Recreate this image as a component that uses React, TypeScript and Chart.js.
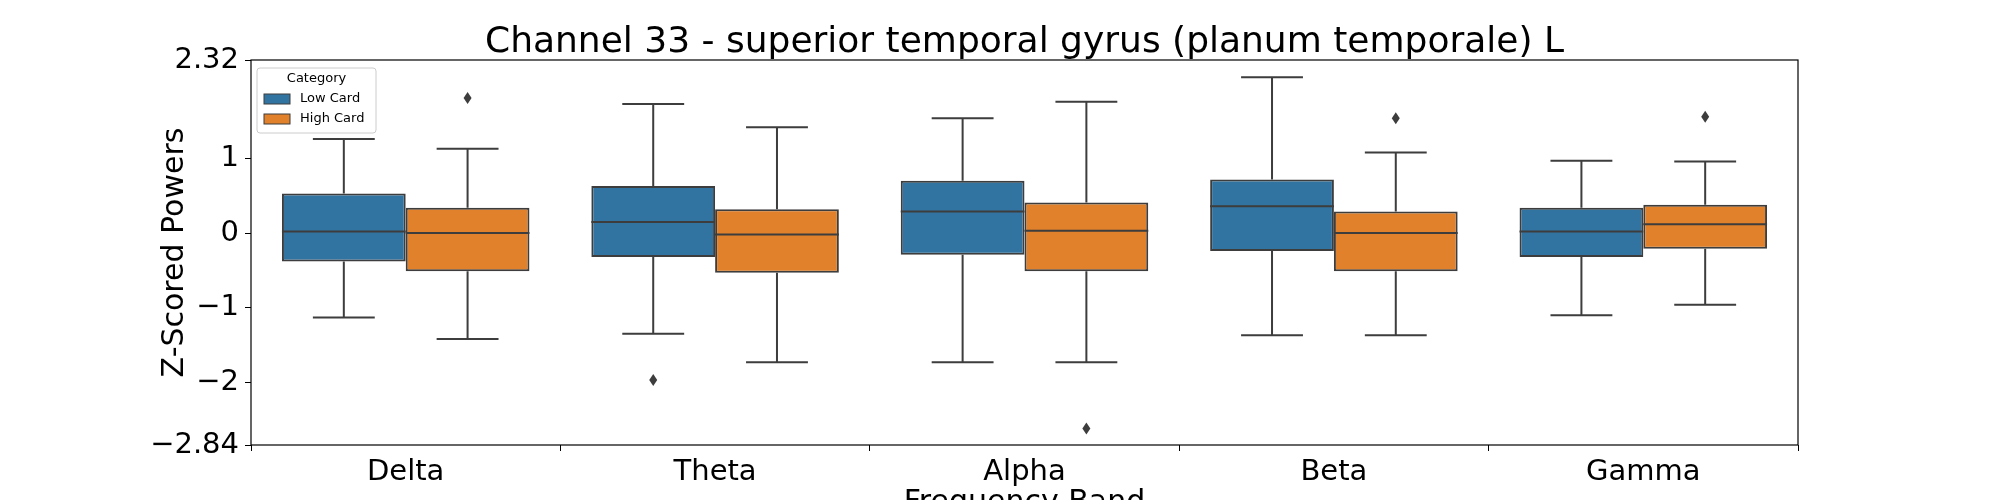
import { useEffect, useRef } from 'react';
import Chart from 'chart.js/auto';

const bands = ['Delta', 'Theta', 'Alpha', 'Beta', 'Gamma'];

// Low Card
const lowMin = [-1.13, -1.35, -1.73, -1.37, -1.1];
const lowQ1 = [-0.38, -0.32, -0.29, -0.24, -0.32];
const lowMed = [0.02, 0.15, 0.29, 0.36, 0.02];
const lowQ3 = [0.53, 0.63, 0.7, 0.72, 0.34];
const lowMax = [1.26, 1.73, 1.54, 2.09, 0.97];
const lowOut = [[], [-1.97], [], [], []];

// High Card
const highMin = [-1.42, -1.73, -1.73, -1.37, -0.96];
const highQ1 = [-0.51, -0.53, -0.51, -0.51, -0.21];
const highMed = [0.0, -0.02, 0.03, 0.0, 0.12];
const highQ3 = [0.34, 0.32, 0.41, 0.29, 0.38];
const highMax = [1.13, 1.42, 1.76, 1.08, 0.96];
const highOut = [[1.81], [], [-2.62], [1.54], [1.56]];

const LOW_COLOR = '#3274a1';
const HIGH_COLOR = '#e1812c';
const EDGE = '#3d3d3d';
const FONT = "'DejaVu Sans', sans-serif";

const stats = [
  { min: lowMin, med: lowMed, max: lowMax, out: lowOut },
  { min: highMin, med: highMed, max: highMax, out: highOut },
];

const boxPlugin = {
  id: 'boxExtras',
  afterDatasetsDraw(chart: any) {
    const ctx = chart.ctx;
    const y = chart.scales.y;
    ctx.save();
    ctx.strokeStyle = EDGE;
    ctx.fillStyle = EDGE;
    ctx.lineWidth = 2;
    stats.forEach((s, di) => {
      const meta = chart.getDatasetMeta(di);
      meta.data.forEach((bar: any, j: number) => {
        const x = bar.x;
        const hw = bar.width / 2;
        const ds = chart.data.datasets[di].data[j];
        const q1 = y.getPixelForValue(ds[0]);
        const q3 = y.getPixelForValue(ds[1]);
        const mn = y.getPixelForValue(s.min[j]);
        const mx = y.getPixelForValue(s.max[j]);
        const md = y.getPixelForValue(s.med[j]);
        ctx.beginPath();
        ctx.moveTo(x, q1); ctx.lineTo(x, mn);
        ctx.moveTo(x, q3); ctx.lineTo(x, mx);
        ctx.moveTo(x - hw / 2, mn); ctx.lineTo(x + hw / 2, mn);
        ctx.moveTo(x - hw / 2, mx); ctx.lineTo(x + hw / 2, mx);
        ctx.moveTo(x - hw, md); ctx.lineTo(x + hw, md);
        ctx.stroke();
        s.out[j].forEach((v: number) => {
          const py = y.getPixelForValue(v);
          ctx.beginPath();
          ctx.moveTo(x, py - 6); ctx.lineTo(x + 4, py); ctx.lineTo(x, py + 6); ctx.lineTo(x - 4, py);
          ctx.closePath();
          ctx.fill();
        });
      });
    });
    ctx.restore();
  },
  afterDraw(chart: any) {
    const ctx = chart.ctx;
    const a = chart.chartArea;
    ctx.save();
    // frame
    ctx.strokeStyle = '#000';
    ctx.lineWidth = 1.2;
    ctx.strokeRect(a.left, a.top, a.right - a.left, a.bottom - a.top);
    // title
    ctx.fillStyle = '#000';
    ctx.textAlign = 'center';
    ctx.textBaseline = 'alphabetic';
    ctx.font = `36px ${FONT}`;
    ctx.fillText('Channel 33 - superior temporal gyrus (planum temporale) L', (a.left + a.right) / 2, 52);
    // x title
    ctx.font = `30px ${FONT}`;
    ctx.textBaseline = 'top';
    ctx.fillText('Frequency Band', (a.left + a.right) / 2, 488);
    // y title
    ctx.save();
    ctx.translate(175, (a.top + a.bottom) / 2);
    ctx.rotate(-Math.PI / 2);
    ctx.textBaseline = 'middle';
    ctx.fillText('Z-Scored Powers', 0, 0);
    ctx.restore();
    // legend
    const lx = 257, ly = 68, lw = 119, lh = 65;
    ctx.fillStyle = 'rgba(255,255,255,0.8)';
    ctx.strokeStyle = '#ccc';
    ctx.lineWidth = 1;
    ctx.beginPath();
    ctx.roundRect(lx, ly, lw, lh, 3);
    ctx.fill();
    ctx.stroke();
    ctx.fillStyle = '#000';
    ctx.font = `13px ${FONT}`;
    ctx.textAlign = 'center';
    ctx.textBaseline = 'middle';
    ctx.fillText('Category', lx + lw / 2, ly + 11);
    const entries = [['Low Card', LOW_COLOR], ['High Card', HIGH_COLOR]];
    entries.forEach(([label, color], i) => {
      const ey = ly + 31 + i * 20;
      ctx.fillStyle = color;
      ctx.fillRect(lx + 7, ey - 5, 26, 10);
      ctx.strokeStyle = EDGE;
      ctx.strokeRect(lx + 7, ey - 5, 26, 10);
      ctx.fillStyle = '#000';
      ctx.textAlign = 'left';
      ctx.fillText(label, lx + 43, ey);
    });
    ctx.restore();
  },
};

export default function App() {
  const ref = useRef<HTMLCanvasElement>(null);

  useEffect(() => {
    if (!ref.current) return;
    const chart = new Chart(ref.current, {
      type: 'bar',
      data: {
        labels: bands,
        datasets: [
          {
            label: 'Low Card',
            data: bands.map((_, i) => [lowQ1[i], lowQ3[i]]) as any,
            backgroundColor: LOW_COLOR,
            borderColor: EDGE,
            borderWidth: 2,
            borderSkipped: false,
          },
          {
            label: 'High Card',
            data: bands.map((_, i) => [highQ1[i], highQ3[i]]) as any,
            backgroundColor: HIGH_COLOR,
            borderColor: EDGE,
            borderWidth: 2,
            borderSkipped: false,
          },
        ],
      },
      options: {
        animation: false,
        responsive: false,
        layout: { padding: { top: 60, right: 202, left: 0, bottom: 0 } },
        plugins: { legend: { display: false }, tooltip: { enabled: false }, title: { display: false } },
        datasets: { bar: { categoryPercentage: 0.8, barPercentage: 1.0 } },
        scales: {
          x: {
            grid: { drawOnChartArea: false, drawTicks: true, tickLength: 6, color: '#000' },
            border: { display: false },
            ticks: { color: '#000', font: { family: FONT, size: 29 }, padding: 4 },
            afterFit: (s: any) => { s.height = 55; },
          },
          y: {
            min: -2.84,
            max: 2.32,
            grid: { drawOnChartArea: false, drawTicks: true, tickLength: 6, color: '#000' },
            border: { display: false },
            ticks: {
              stepSize: 1,
              color: '#000',
              font: { family: FONT, size: 29 },
              padding: 6,
              callback: (v: any) => String(v).replace('-', '\u2212'),
            },
            afterFit: (s: any) => { s.width = 251; },
          },
        },
      },
      plugins: [boxPlugin],
    });
    return () => chart.destroy();
  }, []);

  return (
    <div style={{ position: 'absolute', left: 0, top: 0, width: 2000, height: 500, background: '#fff' }}>
      <canvas ref={ref} width={2000} height={500} />
    </div>
  );
}
